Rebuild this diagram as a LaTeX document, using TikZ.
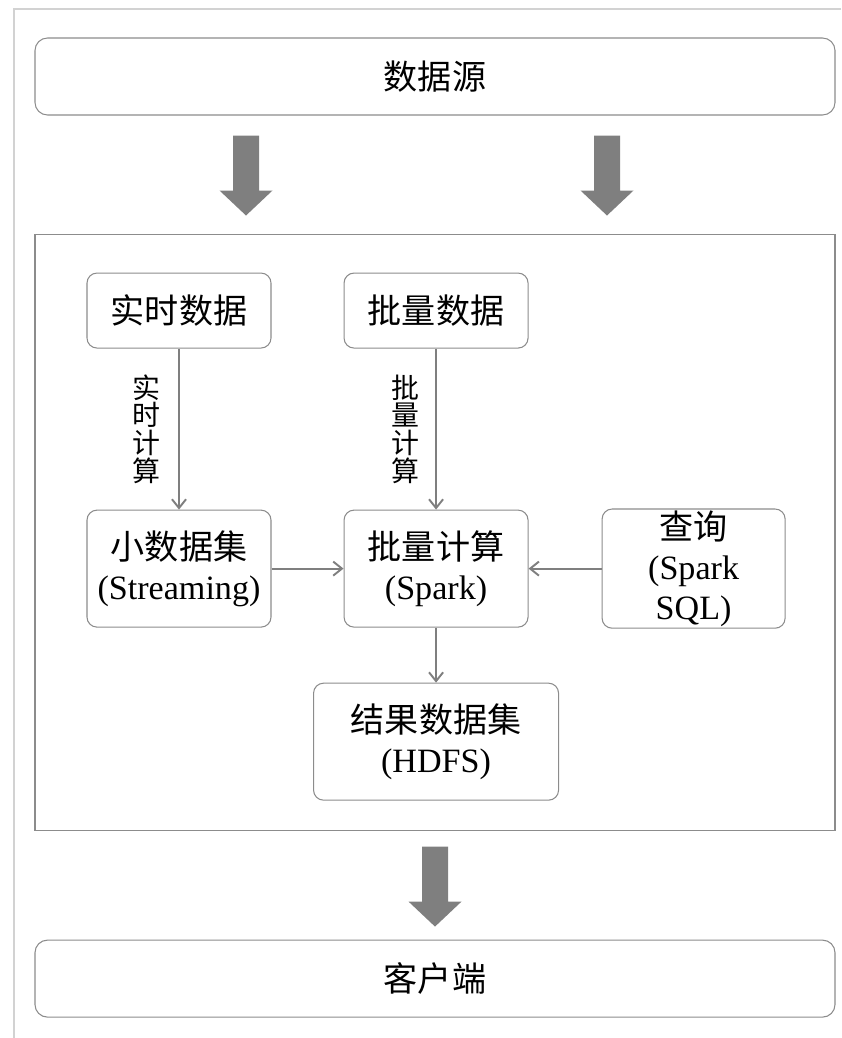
\documentclass[tikz,border=0pt]{standalone}
\usepackage{fontspec}
\setmainfont{Liberation Serif}
\newfontfamily\zh{Noto Sans CJK SC}
\usepackage{tikz}
\usetikzlibrary{arrows.meta,positioning}
\definecolor{linegray}{HTML}{8C8C8C}
\definecolor{fatgray}{HTML}{7F7F7F}
\definecolor{pagegray}{HTML}{D2D2D2}
% wide grey arrow pointing down, #1 = top of the shaft
\newcommand{\fatdown}[1]{%
  \fill[fatgray] (#1) ++(-0.26,0) -- ++(0.52,0) -- ++(0,-1.1) -- ++(0.27,0)
    -- ++(-0.53,-0.5) -- ++(-0.53,0.5) -- ++(0.27,0) -- cycle;}

\begin{document}
\begin{tikzpicture}[scale=1.0,transform shape]
        \tikzstyle{wideblock}=[rectangle, rounded corners=0.25cm, draw=linegray, line width=0.6pt, minimum width=16cm, minimum height=1.54cm, font=\fontsize{19.4}{22.7}\selectfont]
        \tikzstyle{rectblock}=[rectangle, rounded corners=0.2cm, draw=linegray, line width=0.6pt, minimum width=3.68cm, align=center, inner sep=1pt, font=\fontsize{19.4}{22.7}\selectfont]
        \tikzstyle{vlabel}=[align=center, inner sep=0pt, font=\zh\fontsize{15.9}{15.7}\selectfont]
        \tikzstyle{flow}=[->, >={Straight Barb[length=5pt,width=8pt]}, draw=fatgray, line width=1.1pt]
        \useasboundingbox (0,0) rectangle (16.82,-20.76);
        \draw[pagegray, line width=0.6pt] (16.82,-0.18) -- (0.28,-0.18) -- (0.28,-20.76);
        % outer blocks
        \node[wideblock] (src) at (8.7,-1.53) {\zh 数据源};
        \node[rectangle, draw=linegray, line width=0.6pt, minimum width=16cm, minimum height=11.92cm, below=2.36cm of src] (core) {};
        \node[wideblock, below=2.18cm of core] (cli) {\zh 客户端};
        % inner blocks
        \node[rectblock, minimum height=1.5cm, below right=0.78cm and 1.04cm of core.north west] (rt) {\zh 实时数据};
        \node[rectblock, minimum height=1.5cm, right=1.44cm of rt] (bd) {\zh 批量数据};
        \node[rectblock, minimum height=2.34cm, below=3.22cm of rt] (sd) {{\zh 小数据集}\\(Streaming)};
        \node[rectblock, minimum height=2.34cm, below=3.22cm of bd] (bc) {{\zh 批量计算}\\(Spark)};
        \node[rectblock, minimum height=2.34cm, minimum width=3.66cm, right=1.46cm of bc] (sq) {{\zh 查询}\\(Spark\\SQL)};
        \node[rectblock, minimum height=2.34cm, minimum width=4.9cm, below=1.1cm of bc] (res) {{\zh 结果数据集}\\(HDFS)};
        \draw [flow] (rt) -- node[vlabel, left=0.36cm] {实\\时\\计\\算} (sd);
        \draw [flow] (bd) -- node[vlabel, left=0.32cm] {批\\量\\计\\算} (bc);
        \draw [flow] (sd) -- (bc);
        \draw [flow] (sq) -- (bc);
        \draw [flow] (bc) -- (res);
        % wide arrows
        \coordinate[below left=0.4cm and 3.78cm of src.south] (f1);
        \coordinate[below right=0.4cm and 3.44cm of src.south] (f2);
        \coordinate[below=0.32cm of core.south] (f3);
        \fatdown{f1}
        \fatdown{f2}
        \fatdown{f3}
      \end{tikzpicture}
\end{document}
